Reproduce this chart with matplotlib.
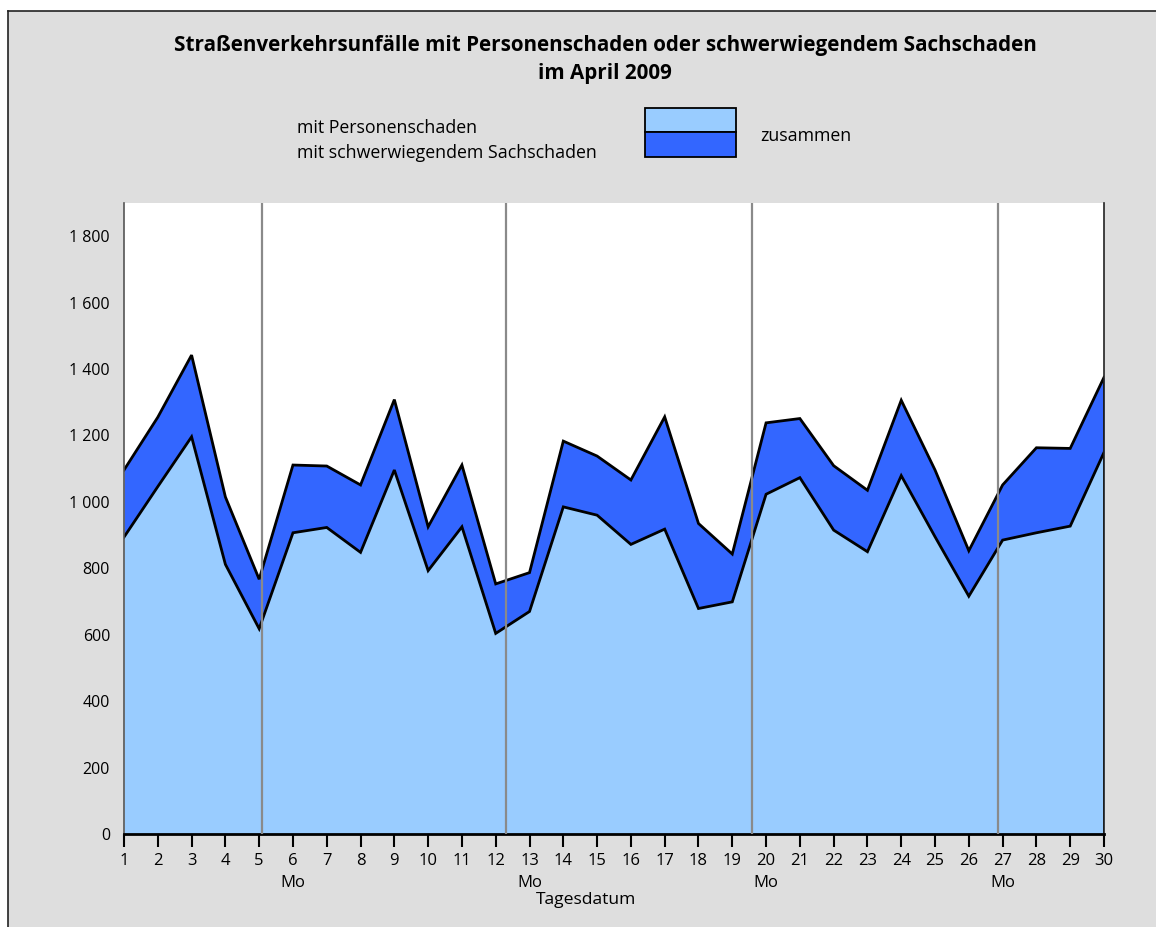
import numpy as np
import matplotlib
matplotlib.use("Agg")
import matplotlib.pyplot as plt
from matplotlib.patches import Rectangle
from matplotlib.lines import Line2D
from matplotlib.transforms import blended_transform_factory

plt.rcParams['font.family'] = ['Open Sans', 'DejaVu Sans']

# Tagesdatum April 2009
tage = list(range(1, 31))
# Unfaelle mit Personenschaden
personen = [894, 1046, 1196, 812, 618, 907, 923, 848, 1096, 793,
            925, 604, 670, 985, 960, 872, 918, 679, 699, 1023,
            1073, 915, 850, 1079, 895, 716, 885, 907, 927, 1149]
# zusammen (Personenschaden + schwerwiegender Sachschaden)
zusammen = [1096, 1255, 1442, 1015, 767, 1111, 1108, 1051, 1308, 925,
            1111, 753, 787, 1183, 1138, 1066, 1256, 935, 843, 1238,
            1251, 1109, 1035, 1306, 1096, 853, 1051, 1163, 1161, 1375]
montage = [6, 13, 20, 27]
# Wochentrenner, wie im Original leicht versetzt
trenner = [5.08, 12.3, 19.57, 26.86]
yticks = [0, 200, 400, 600, 800, 1000, 1200, 1400, 1600, 1800]

hell = "#99CCFF"
dunkel = "#3366FF"
grau = "#DEDEDE"

W, H = 1156, 927
fig = plt.figure(figsize=(W / 100, H / 100), dpi=100, facecolor="white")
# grauer Hintergrund mit Rahmen oben und links
fig.patches.append(Rectangle((8 / W, 0), 1 - 8 / W, 1 - 11 / H,
                             transform=fig.transFigure, facecolor=grau,
                             edgecolor="none", zorder=-2))
fig.lines.append(Line2D([8 / W, 8 / W], [0, 1 - 11 / H], transform=fig.transFigure,
                        color="#222222", linewidth=1.2, zorder=-1))
fig.lines.append(Line2D([8 / W, 1], [1 - 11 / H, 1 - 11 / H], transform=fig.transFigure,
                        color="#222222", linewidth=1.2, zorder=-1))

ax = fig.add_axes([124 / W, 1 - 834 / H, 980 / W, 631 / H])
ax.set_zorder(1)
ax.set_facecolor("white")

ax.fill_between(tage, 0, personen, color=hell, linewidth=0)
ax.fill_between(tage, personen, zusammen, color=dunkel, linewidth=0)
ax.plot(tage, personen, color="black", linewidth=2, solid_joinstyle="miter")
ax.plot(tage, zusammen, color="black", linewidth=2, solid_joinstyle="miter")
ax.plot([tage[-1], tage[-1]], [0, zusammen[-1]], color="black", linewidth=2)

for t in trenner:
    ax.axvline(t, color="#8a8a8a", linewidth=1.6, zorder=5)

ax.set_xlim(1, 30)
ax.set_ylim(0, 1900)
ax.set_xticks(tage)
ax.set_xticklabels([str(t) for t in tage], fontsize=12)
ax.set_yticks(yticks)
ax.set_yticklabels([f"{v:,}".replace(",", " ") for v in yticks], fontsize=11.5)
ax.tick_params(axis="x", direction="out", length=9, width=1.5, pad=5)
ax.tick_params(axis="y", length=0, pad=10)

ax.spines["top"].set_visible(False)
ax.spines["bottom"].set_linewidth(2)
ax.spines["left"].set_color("#555555")
ax.spines["left"].set_linewidth(1.2)
ax.spines["right"].set_linewidth(1.2)
ax.spines["right"].set_color("#222222")

trans = blended_transform_factory(ax.transData, fig.transFigure)
for m in montage:
    ax.text(m, 1 - 883 / H, "Mo", transform=trans, ha="center", va="center",
            fontsize=12)

fig.text(586 / W, 1 - 900 / H, "Tagesdatum", ha="center", va="center",
         fontsize=12.6)

fig.text(605 / W, 1 - 46 / H,
         "Straßenverkehrsunfälle mit Personenschaden oder schwerwiegendem Sachschaden",
         ha="center", va="center", fontsize=14.9, fontweight="bold")
fig.text(605 / W, 1 - 74 / H, "im April 2009",
         ha="center", va="center", fontsize=14.9, fontweight="bold")

# Legende
fig.text(297 / W, 1 - 128 / H, "mit Personenschaden", ha="left",
         va="center", fontsize=12.8)
fig.text(297 / W, 1 - 153 / H, "mit schwerwiegendem Sachschaden", ha="left",
         va="center", fontsize=12.8)
fig.patches.append(Rectangle((645 / W, 1 - 132 / H), 91 / W, 24 / H,
                             transform=fig.transFigure, facecolor=hell,
                             edgecolor="black", linewidth=1.3))
fig.patches.append(Rectangle((645 / W, 1 - 157 / H), 91 / W, 25 / H,
                             transform=fig.transFigure, facecolor=dunkel,
                             edgecolor="black", linewidth=1.3))
fig.text(760 / W, 1 - 136 / H, "zusammen", ha="left", va="center",
         fontsize=12.8)

fig.savefig("out.png", dpi=100, facecolor="white")
